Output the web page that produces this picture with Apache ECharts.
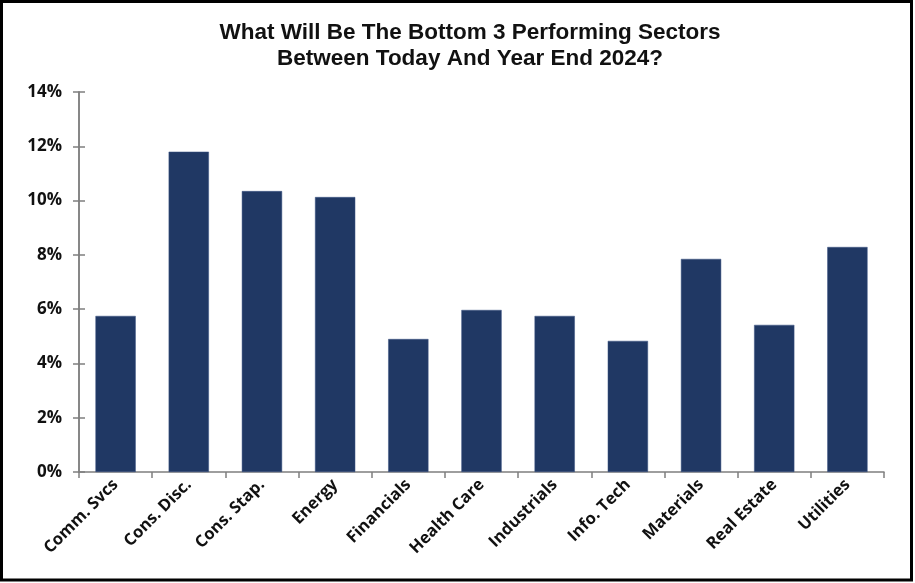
<!DOCTYPE html>
<html>
<head>
<meta charset="utf-8">
<script src="https://cdn.jsdelivr.net/npm/echarts@6/dist/echarts.min.js"></script>
<style>
html,body{margin:0;padding:0;background:#fff;}
#chart{width:915px;height:583px;}
</style>
</head>
<body>
<div id="chart"></div>
<script>
const categories = ['Comm. Svcs','Cons. Disc.','Cons. Stap.','Energy','Financials','Health Care','Industrials','Info. Tech','Materials','Real Estate','Utilities'];
const values = [5.75, 11.8, 10.35, 10.13, 4.9, 5.97, 5.75, 4.83, 7.85, 5.42, 8.29];
const yTicks = [0, 2, 4, 6, 8, 10, 12, 14];
const titleText = 'What Will Be The Bottom 3 Performing Sectors\nBetween Today And Year End 2024?';

const chart = echarts.init(document.getElementById('chart'), null, {renderer:'canvas'});
const axisColor = '#7f7f7f';
const yBase = {
  type:'value', min: yTicks[0], max: yTicks[yTicks.length-1], interval: 2,
  splitLine:{show:false},
  axisLine:{show:true, lineStyle:{color:axisColor, width:1.5}}
};
chart.setOption({
  animation:false,
  backgroundColor:'#fff',
  title:{
    text:titleText, left:465, textAlign:'center', top:15,
    textStyle:{fontFamily:'Liberation Sans, Arial', fontWeight:'bold', fontSize:22.5, lineHeight:26, color:'#111'}
  },
  grid:{left:79, right:31, top:92, bottom:111, containLabel:false},
  xAxis:{
    type:'category', data:categories,
    axisLine:{lineStyle:{color:axisColor, width:1.5}},
    axisTick:{show:true, length:6, lineStyle:{color:axisColor, width:1.5}},
    axisLabel:{rotate:45, interval:0, fontFamily:'Open Sans', fontWeight:'bold', fontSize:16.5, color:'#111', margin:10}
  },
  yAxis:[
    Object.assign({}, yBase, {
      axisTick:{show:true, length:6, lineStyle:{color:axisColor, width:1.5}},
      axisLabel:{formatter: v => v + '%', fontFamily:'Open Sans', fontWeight:'bold', fontSize:17, color:'#111', margin:17}
    }),
    Object.assign({}, yBase, {
      position:'left',
      axisTick:{show:true, inside:true, length:6, lineStyle:{color:axisColor, width:1.5}},
      axisLabel:{show:false}
    })
  ],
  series:[{
    type:'bar', data:values, barWidth:'55%', yAxisIndex:0,
    itemStyle:{color:'#203864', borderColor:'#3a5282', borderWidth:0.5}
  }],
  graphic:[{
    type:'rect', silent:true, z:100,
    shape:{x:1.5, y:1.5, width:910, height:578.5},
    style:{fill:'none', stroke:'#000', lineWidth:3}
  }]
});
</script>
</body>
</html>
